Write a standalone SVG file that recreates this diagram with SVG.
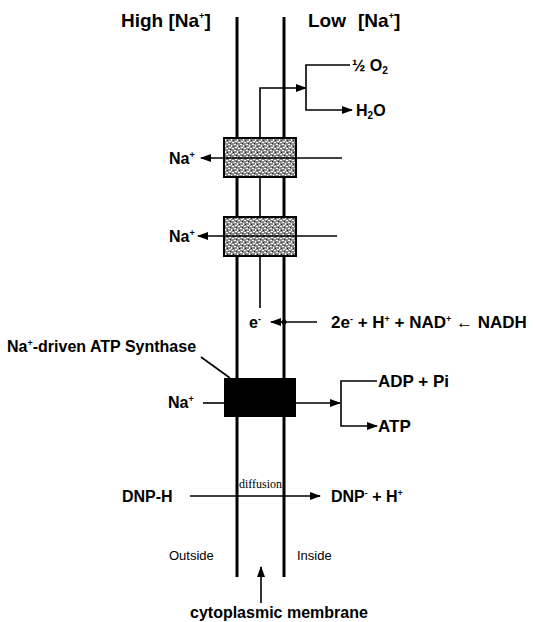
<svg xmlns="http://www.w3.org/2000/svg" width="533" height="622" viewBox="0 0 533 622">
<style>
.b{font-family:"Liberation Sans",Arial,sans-serif;font-weight:bold;font-size:16px;fill:#000}
.h{font-size:19px}
.m{font-size:17px}
.n{font-family:"Liberation Sans",Arial,sans-serif;font-size:13px;fill:#000}
.s{font-family:"Liberation Serif","Times New Roman",serif;font-size:12px;fill:#000}
.sup{font-size:9px}
.sub{font-size:10px}
.mem{stroke:#000;stroke-width:3;fill:none}
.ln{stroke:#000;stroke-width:1.6;fill:none}
.arr{stroke:#000;stroke-width:1.6;fill:none;marker-end:url(#ah)}
.tr{fill:url(#noise);stroke:#000;stroke-width:2}
</style>
<defs>
<marker id="ah" markerWidth="11" markerHeight="8" refX="10" refY="4" orient="auto" markerUnits="userSpaceOnUse">
<path d="M0,0 L11,4 L0,8 z" fill="#000"/>
</marker>
<pattern id="noise" width="6" height="6" patternUnits="userSpaceOnUse">
<rect width="6" height="6" fill="#8a8a8a"/>
<rect x="0" y="0" width="2" height="1" fill="#fff"/>
<rect x="3" y="1" width="1" height="2" fill="#fff"/>
<rect x="1" y="3" width="2" height="1" fill="#fff"/>
<rect x="4" y="4" width="2" height="1" fill="#fff"/>
<rect x="2" y="5" width="1" height="1" fill="#222"/>
<rect x="5" y="2" width="1" height="1" fill="#222"/>
</pattern>
</defs>

<g id="membrane">
<path class="mem" d="M237,17 V577"/>
<path class="mem" d="M284,17 V577"/>
</g>

<g id="connectors">
<path class="arr" d="M260,308 V88 H306"/>
<path class="arr" d="M350,65 H306 V110 H352"/>
<path class="arr" d="M342,158 H201"/>
<path class="arr" d="M337,236 H198"/>
<path class="arr" d="M317,322 H271"/>
<circle cx="284" cy="322" r="2.5" fill="#000"/>
<path class="ln" d="M201,357 L230,378"/>
<path class="ln" d="M203,403 H224"/>
<path class="arr" d="M296,403 H340"/>
<path class="arr" d="M377,381 H341 V426 H377"/>
<path class="arr" d="M190,496 H320"/>
<path class="arr" d="M261,603 V567"/>
</g>

<g id="transporter1">
<rect class="tr" x="224" y="138" width="72" height="39"/>
<path class="ln" d="M224,158 H296"/>
</g>
<g id="transporter2">
<rect class="tr" x="224" y="217" width="72" height="39"/>
<path class="ln" d="M224,236 H296"/>
</g>
<g id="atp-synthase">
<rect x="224" y="378" width="72" height="39" fill="#000"/>
</g>

<g id="labels">
<text class="b h" x="121" y="27">High [Na<tspan class="sup" dy="-8">+</tspan><tspan dy="8">]</tspan></text>
<text class="b h" x="308" y="27">Low</text>
<text class="b h" x="358" y="27">[Na<tspan class="sup" dy="-8">+</tspan><tspan dy="8">]</tspan></text>
<text class="b" x="352" y="71">½ O<tspan class="sub" dy="3">2</tspan></text>
<text class="b" x="356" y="116">H<tspan class="sub" dy="3">2</tspan><tspan dy="-3">O</tspan></text>
<text class="b" x="169" y="164">Na<tspan class="sup" dy="-6">+</tspan></text>
<text class="b" x="169" y="242">Na<tspan class="sup" dy="-6">+</tspan></text>
<text class="b" x="249" y="328">e<tspan class="sup" dy="-6">-</tspan></text>
<text class="b m" x="331" y="328">2e<tspan class="sup" dy="-6">-</tspan><tspan dy="6"> + H</tspan><tspan class="sup" dy="-6">+</tspan><tspan dy="6"> + NAD</tspan><tspan class="sup" dy="-6">+</tspan><tspan dy="6">   ← NADH</tspan></text>
<text class="b" x="7" y="352">Na<tspan class="sup" dy="-6">+</tspan><tspan dy="6">-driven ATP Synthase</tspan></text>
<text class="b" x="168" y="408">Na<tspan class="sup" dy="-6">+</tspan></text>
<text class="b m" x="378" y="387">ADP + Pi</text>
<text class="b m" x="378" y="432">ATP</text>
<text class="b" x="122" y="502">DNP-H</text>
<text class="s" x="239" y="488">diffusion</text>
<text class="b" x="331" y="502">DNP<tspan class="sup" dy="-6">-</tspan><tspan dy="6"> + H</tspan><tspan class="sup" dy="-6">+</tspan></text>
<text class="n" x="169" y="560">Outside</text>
<text class="n" x="297" y="560">Inside</text>
<text class="b" x="190" y="618">cytoplasmic membrane</text>
</g>
</svg>
